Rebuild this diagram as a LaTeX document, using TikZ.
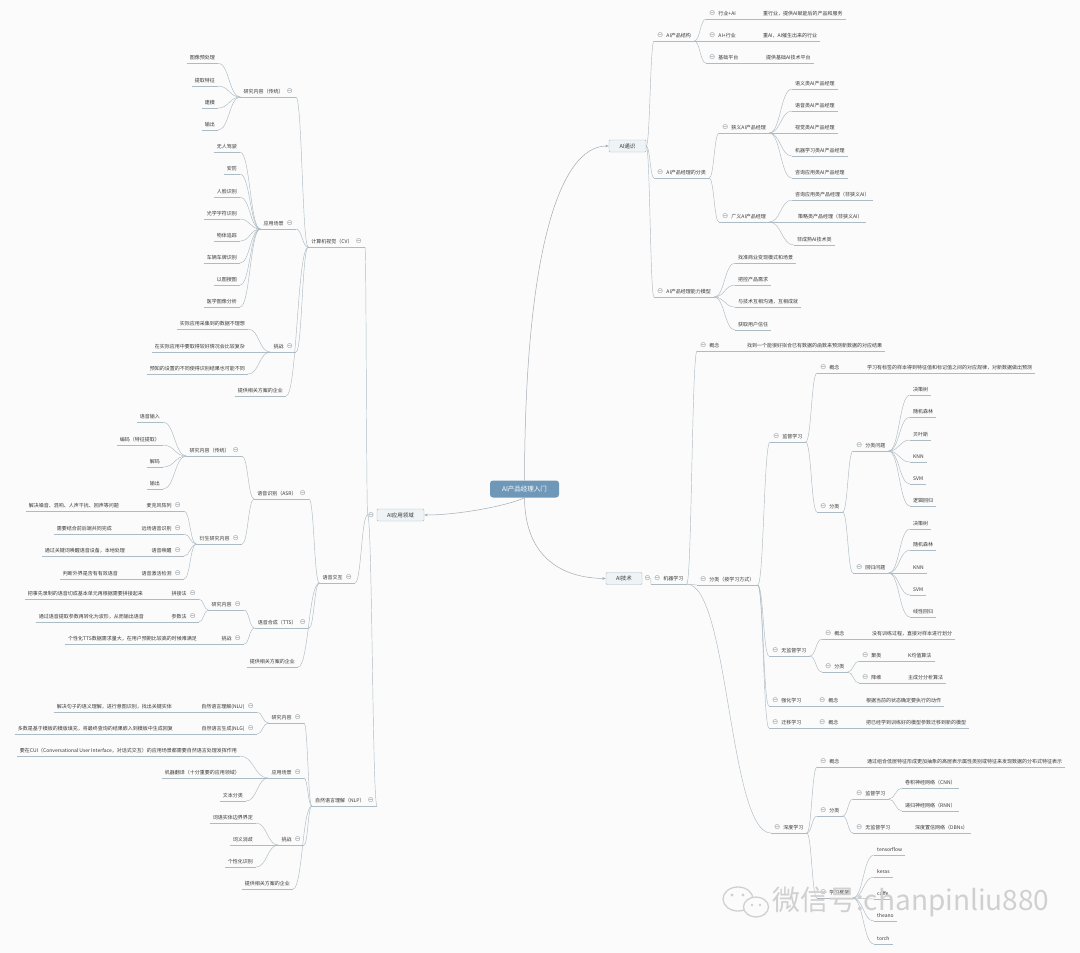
\documentclass[tikz,border=0pt]{standalone}
\usepackage{fontspec}
\setmainfont{Noto Sans CJK SC}
\newfontfamily\symf{DejaVu Sans}
\usetikzlibrary{calc,arrows.meta}
\definecolor{lnc}{HTML}{ADBBC4}
\definecolor{txc}{HTML}{383838}
\definecolor{cic}{HTML}{9AA3A9}
\definecolor{hubc}{HTML}{6F98B8}
\definecolor{boxf}{HTML}{EEF3F5}
\definecolor{boxd}{HTML}{A7B8C2}
\definecolor{bgc}{HTML}{FBFBFB}
\definecolor{wmc}{HTML}{D0D0D0}
\newcommand\cir{{\symf\fontsize{7.5}{7.5}\selectfont\color{cic}⊖}}
\newcommand\mmlink[2]{\draw[conn] let \p1=#1, \p2=#2 in (\p1) .. controls ({0.5*\x1+0.5*\x2},\y1) and ({0.5*\x1+0.5*\x2},\y2) .. (\p2);}
\newcommand\linkR[2]{\mmlink{(#1.south east)}{(#2.south west)}}
\newcommand\linkL[2]{\mmlink{(#1.south west)}{(#2.south east)}}
\tikzset{
  conn/.style={draw=lnc, line width=0.45pt},
  base/.style={font=\fontsize{5}{6}\selectfont, text=txc, inner xsep=3pt, inner ysep=2.2pt,
    text height=4.3pt, text depth=1pt,
    append after command={(\tikzlastnode.south west) edge[conn] (\tikzlastnode.south east)}},
  rn/.style={base, anchor=west},
  lnd/.style={base, anchor=east},
  br/.style={draw=boxd, fill=boxf, rounded corners=1pt, line width=0.45pt, minimum height=12pt, inner sep=1pt, font=\fontsize{5.5}{6}\selectfont, text=txc},
  hubn/.style={fill=hubc, rounded corners=3pt, minimum width=69pt, minimum height=17pt, font=\fontsize{6.5}{7}\selectfont, text=white},
  ar/.style={draw=lnc!75!gray, line width=0.5pt, -{Stealth[length=3.5pt,width=2.6pt]}},
  ci/.style={inner sep=0pt},
}
\begin{document}
\begin{tikzpicture}[x=1pt,y=-1pt]
\fill[bgc] (0,0) rectangle (1080,953);
\useasboundingbox (0,0) rectangle (1080,953);

% ---------- hub and main branches ----------
\node[hubn] (ctr) at (524.5,489) {AI产品经理入门};
\node[br, minimum width=37pt] (ai1) at (627.5,146) {AI通识};
\node[br, minimum width=36pt] (ai2) at (624,578.5) {AI技术};
\node[br, minimum width=47pt] (ai3) at (400.5,515) {AI应用领域};
\node[ci] (ai2c) at (647.5,578) {\cir};
\node[ci] (ai3c) at (371,515) {\cir};
\draw[ar] (ctr.north) .. controls (525,250) and (560,146) .. (ai1.west);
\draw[ar] (ctr.south) .. controls (525,560) and (565,578) .. (ai2.west);
\draw[ar] (ctr.south) .. controls (510,505) and (460,515) .. (ai3.east);

% ---------- AI通识 ----------
\node[rn] (s1) at (654,36) {\cir\hspace{3pt}AI产品结构};
\node[rn] (s2) at (654,173) {\cir\hspace{3pt}AI产品经理的分类};
\node[rn] (s3) at (654,292) {\cir\hspace{3pt}AI产品经理能力模型};
\mmlink{(ai1.east)}{(s1.south west)}
\mmlink{(ai1.east)}{(s2.south west)}
\mmlink{(ai1.east)}{(s3.south west)}

\node[rn] (s1a) at (706,14) {\cir\hspace{3pt}行业+AI};
\node[rn] (s1av) at (760,14) {重行业，提供AI赋能后的产品和服务};
\node[rn] (s1b) at (706,36) {\cir\hspace{3pt}AI+行业};
\node[rn] (s1bv) at (760,36) {重AI，AI催生出来的行业};
\node[rn] (s1c) at (706,58) {\cir\hspace{3pt}基础平台};
\node[rn] (s1cv) at (763,58) {提供基础AI技术平台};
\linkR{s1}{s1a} \linkR{s1}{s1b} \linkR{s1}{s1c}
\linkR{s1a}{s1av} \linkR{s1b}{s1bv} \linkR{s1c}{s1cv}

\node[rn] (s2a) at (719,128) {\cir\hspace{3pt}狭义AI产品经理};
\node[rn] (s2b) at (719,217) {\cir\hspace{3pt}广义AI产品经理};
\linkR{s2}{s2a} \linkR{s2}{s2b}
\foreach \t/\y [count=\i] in {语义类AI产品经理/84, 语音类AI产品经理/106, 视觉类AI产品经理/128, 机器学习类AI产品经理/151, 咨询应用类AI产品经理/173}
  {\node[rn] (n\i) at (792,\y) {\t}; \linkR{s2a}{n\i}}
\node[rn] (g1) at (792,195) {咨询应用类产品经理（非狭义AI）};
\node[rn] (g2) at (795,217) {策略类产品经理（非狭义AI）};
\node[rn] (g3) at (794,240) {非成熟AI技术类};
\linkR{s2b}{g1} \linkR{s2b}{g2} \linkR{s2b}{g3}

\foreach \t/\y [count=\i] in {找准商业变现模式和场景/258, 把控产品需求/280, 与技术互相沟通，互相成就/302, 获取用户信任/325}
  {\node[rn] (k\i) at (735,\y) {\t}; \linkR{s3}{k\i}}

% ---------- AI技术 ----------
\node[rn] (m) at (651,579) {\cir\hspace{3pt}机器学习};
\mmlink{(ai2c.east)}{(m.south west)}
\node[rn] (m1) at (697,346) {\cir\hspace{3pt}概念};
\node[rn] (m1v) at (744,346) {找到一个能很好拟合已有数据的函数来预测新数据的对应结果};
\node[rn] (m2) at (697,580) {\cir\hspace{3pt}分类（按学习方式）};
\node[rn] (dl) at (771,828) {\cir\hspace{3pt}深度学习};
\linkR{m}{m1} \linkR{m1}{m1v} \linkR{m}{m2} \linkR{m}{dl}

\node[rn] (sv) at (770,437) {\cir\hspace{3pt}监督学习};
\node[rn] (us) at (769,651) {\cir\hspace{3pt}无监督学习};
\node[rn] (rl) at (769,701) {\cir\hspace{3pt}强化学习};
\node[rn] (tl) at (769,723) {\cir\hspace{3pt}迁移学习};
\linkR{m2}{sv} \linkR{m2}{us} \linkR{m2}{rl} \linkR{m2}{tl}

\node[rn] (sv1) at (817,368) {\cir\hspace{3pt}概念};
\node[rn] (sv1v) at (864,368) {学习有标签的样本得到特征值和标记值之间的对应规律，对新数据做出预测};
\node[rn] (sv2) at (817,507) {\cir\hspace{3pt}分类};
\linkR{sv}{sv1} \linkR{sv1}{sv1v} \linkR{sv}{sv2}
\node[rn] (cls) at (853,446) {\cir\hspace{3pt}分类问题};
\node[rn] (reg) at (853,568) {\cir\hspace{3pt}回归问题};
\linkR{sv2}{cls} \linkR{sv2}{reg}
\foreach \t/\y [count=\i] in {决策树/390, 随机森林/412, 贝叶斯/435, KNN/457, SVM/479, 逻辑回归/501}
  {\node[rn] (cl\i) at (910,\y) {\t}; \linkR{cls}{cl\i}}
\foreach \t/\y [count=\i] in {决策树/524, 随机森林/545, KNN/568, SVM/590, 线性回归/612}
  {\node[rn] (rg\i) at (910,\y) {\t}; \linkR{reg}{rg\i}}

\node[rn] (us1) at (822,634) {\cir\hspace{3pt}概念};
\node[rn] (us1v) at (869,634) {没有训练过程，直接对样本进行划分};
\node[rn] (us2) at (822,667) {\cir\hspace{3pt}分类};
\linkR{us}{us1} \linkR{us1}{us1v} \linkR{us}{us2}
\node[rn] (ju) at (859,656) {\cir\hspace{3pt}聚类};
\node[rn] (juv) at (905,656) {K均值算法};
\node[rn] (jw) at (859,678) {\cir\hspace{3pt}降维};
\node[rn] (jwv) at (905,678) {主成分分析算法};
\linkR{us2}{ju} \linkR{ju}{juv} \linkR{us2}{jw} \linkR{jw}{jwv}

\node[rn] (rl1) at (816,701) {\cir\hspace{3pt}概念};
\node[rn] (rl1v) at (863,701) {根据当前的状态确定要执行的动作};
\linkR{rl}{rl1} \linkR{rl1}{rl1v}
\node[rn] (tl1) at (816,723) {\cir\hspace{3pt}概念};
\node[rn] (tl1v) at (863,723) {把已经学到训练好的模型参数迁移到新的模型};
\linkR{tl}{tl1} \linkR{tl1}{tl1v}

\node[rn] (dl1) at (817,762) {\cir\hspace{3pt}概念};
\node[rn] (dl1v) at (864,762) {通过组合低层特征形成更加抽象的高层表示属性类别或特征来发现数据的分布式特征表示};
\node[rn] (dl2) at (817,811) {\cir\hspace{3pt}分类};
\node[rn] (dl3) at (817,893) {\cir\hspace{3pt}学习框架};
\linkR{dl}{dl1} \linkR{dl1}{dl1v} \linkR{dl}{dl2} \linkR{dl}{dl3}
\node[rn] (dsv) at (853,794) {\cir\hspace{3pt}监督学习};
\node[rn] (dus) at (853,828) {\cir\hspace{3pt}无监督学习};
\linkR{dl2}{dsv} \linkR{dl2}{dus}
\node[rn] (d1) at (902,783) {卷积神经网络（CNN）};
\node[rn] (d2) at (902,806) {递归神经网络（RNN）};
\node[rn] (dusv) at (912,828) {深度置信网络（DBNs）};
\linkR{dsv}{d1} \linkR{dsv}{d2} \linkR{dus}{dusv}
\foreach \t/\y [count=\i] in {tensorflow/850, keras/872, caffe/894, theano/916, torch/939}
  {\node[rn] (f\i) at (874,\y) {\t}; \linkR{dl3}{f\i}}

% ---------- AI应用领域 ----------
\node[lnd] (cv) at (365,242) {计算机视觉（CV）\hspace{3pt}\cir};
\node[lnd] (vi) at (355,578) {语音交互\hspace{3pt}\cir};
\node[lnd] (nlp) at (377,801) {自然语言理解（NLP）\hspace{3pt}\cir};
\mmlink{(ai3c.west)}{(cv.south east)}
\mmlink{(ai3c.west)}{(vi.south east)}
\mmlink{(ai3c.west)}{(nlp.south east)}

% CV
\node[lnd] (cv1) at (296,92) {研究内容（传统）\hspace{3pt}\cir};
\node[lnd] (cv2) at (296,224) {应用场景\hspace{3pt}\cir};
\node[lnd] (cv3) at (296,347) {挑战\hspace{3pt}\cir};
\node[lnd] (cv4) at (286,391) {提供相关方案的企业};
\linkL{cv}{cv1} \linkL{cv}{cv2} \linkL{cv}{cv3} \linkL{cv}{cv4}
\foreach \t/\y [count=\i] in {图像预处理/58, 提取特征/81, 建模/103, 输出/125}
  {\node[lnd] (cva\i) at (218,\y) {\t}; \linkL{cv1}{cva\i}}
\foreach \t/\y [count=\i] in {无人驾驶/147, 安防/169, 人脸识别/192, 光学字符识别/214, 物体追踪/236, 车辆车牌识别/258, 以图搜图/280, 医学图像分析/302}
  {\node[lnd] (cvb\i) at (240,\y) {\t}; \linkL{cv2}{cvb\i}}
\foreach \t/\y [count=\i] in {实际应用采集到的数据不理想/324, 在实际应用中要取得较好情况会比较复杂/347, 预知的设置的不同使得识别结果也可能不同/369}
  {\node[lnd] (cvc\i) at (248,\y) {\t}; \linkL{cv3}{cvc\i}}

% 语音交互
\node[lnd] (asr) at (309,494) {语音识别（ASR）\hspace{3pt}\cir};
\node[lnd] (tts) at (309,623) {语音合成（TTS）\hspace{3pt}\cir};
\node[lnd] (vi3) at (298,662) {提供相关方案的企业};
\linkL{vi}{asr} \linkL{vi}{tts} \linkL{vi}{vi3}
\node[lnd] (asr1) at (242,451) {研究内容（传统）\hspace{3pt}\cir};
\node[lnd] (asr2) at (242,539) {衍生研究内容\hspace{3pt}\cir};
\linkL{asr}{asr1} \linkL{asr}{asr2}
\foreach \t/\y [count=\i] in {语音输入/417, 编码（特征提取）/440, 解码/462, 输出/484}
  {\node[lnd] (asa\i) at (163,\y) {\t}; \linkL{asr1}{asa\i}}
\node[lnd] (mic) at (184,506) {麦克风阵列\hspace{3pt}\cir};
\node[lnd] (micv) at (122,506) {解决噪音、混响、人声干扰、回声等问题};
\node[lnd] (far) at (184,529) {远场语音识别\hspace{3pt}\cir};
\node[lnd] (farv) at (115,529) {需要结合前后端共同完成};
\node[lnd] (wake) at (184,551) {语音唤醒\hspace{3pt}\cir};
\node[lnd] (wakev) at (128,551) {通过关键词唤醒语音设备，本地处理};
\node[lnd] (vad) at (184,574) {语音激活检测\hspace{3pt}\cir};
\node[lnd] (vadv) at (121,574) {判断外界是否有有效语音};
\linkL{asr2}{mic} \linkL{asr2}{far} \linkL{asr2}{wake} \linkL{asr2}{vad}
\linkL{mic}{micv} \linkL{far}{farv} \linkL{wake}{wakev} \linkL{vad}{vadv}
\node[lnd] (tts1) at (244,605) {研究内容\hspace{3pt}\cir};
\node[lnd] (tts2) at (244,639) {挑战\hspace{3pt}\cir};
\node[lnd] (tts2v) at (200,639) {个性化TTS数据需求量大，在用户预期比较高的时候难满足};
\linkL{tts}{tts1} \linkL{tts}{tts2} \linkL{tts2}{tts2v}
\node[lnd] (pj) at (199,594) {拼接法\hspace{3pt}\cir};
\node[lnd] (pjv) at (146,594) {把事先录制的语音切成基本单元再根据需要拼接起来};
\node[lnd] (cs) at (199,617) {参数法\hspace{3pt}\cir};
\node[lnd] (csv) at (147,617) {通过语音提取参数再转化为波形，从而输出语音};
\linkL{tts1}{pj} \linkL{tts1}{cs} \linkL{pj}{pjv} \linkL{cs}{csv}

% NLP
\node[lnd] (nl1) at (304,718) {研究内容\hspace{3pt}\cir};
\node[lnd] (nl2) at (304,773) {应用场景\hspace{3pt}\cir};
\node[lnd] (nl3) at (304,840) {挑战\hspace{3pt}\cir};
\node[lnd] (nl4) at (293,884) {提供相关方案的企业};
\linkL{nlp}{nl1} \linkL{nlp}{nl2} \linkL{nlp}{nl3} \linkL{nlp}{nl4}
\node[lnd] (nlu) at (257,707) {自然语言理解(NLU)\hspace{3pt}\cir};
\node[lnd] (nluv) at (175,707) {解决句子的语义理解，进行意图识别，找出关键实体};
\node[lnd] (nlg) at (257,729) {自然语言生成(NLG)\hspace{3pt}\cir};
\node[lnd] (nlgv) at (176,729) {多数是基于模板的模版填充，将最终查询的结果嵌入到模板中生成回复};
\linkL{nl1}{nlu} \linkL{nl1}{nlg} \linkL{nlu}{nluv} \linkL{nlg}{nlgv}
\node[lnd] (ap1) at (240,751) {要在CUI（Conversational User Interface，对话式交互）的应用场景都需要自然语言处理发挥作用};
\node[lnd] (ap2) at (243,773) {机器翻译（十分重要的应用领域）};
\node[lnd] (ap3) at (246,796) {文本分类};
\linkL{nl2}{ap1} \linkL{nl2}{ap2} \linkL{nl2}{ap3}
\foreach \t/\y [count=\i] in {词语实体边界界定/818, 词义消歧/840, 个性化识别/862}
  {\node[lnd] (ch\i) at (256,\y) {\t}; \linkL{nl3}{ch\i}}

% ---------- watermark ----------
\draw[wmc, line width=1.3pt, fill=bgc] (738,899) ellipse (15 and 12);
\draw[wmc, line width=1.3pt, fill=bgc] (756,907) ellipse (12.5 and 10);
\fill[wmc] (732,895) circle (1.6) (743,895) circle (1.6) (752,905) circle (1.3) (760,905) circle (1.3);
\node[anchor=west, inner sep=0pt, text=wmc, font=\fontsize{28}{28}\selectfont] (wm) at (772,902) {微信号:chanpinliu880};
\end{tikzpicture}
\end{document}
